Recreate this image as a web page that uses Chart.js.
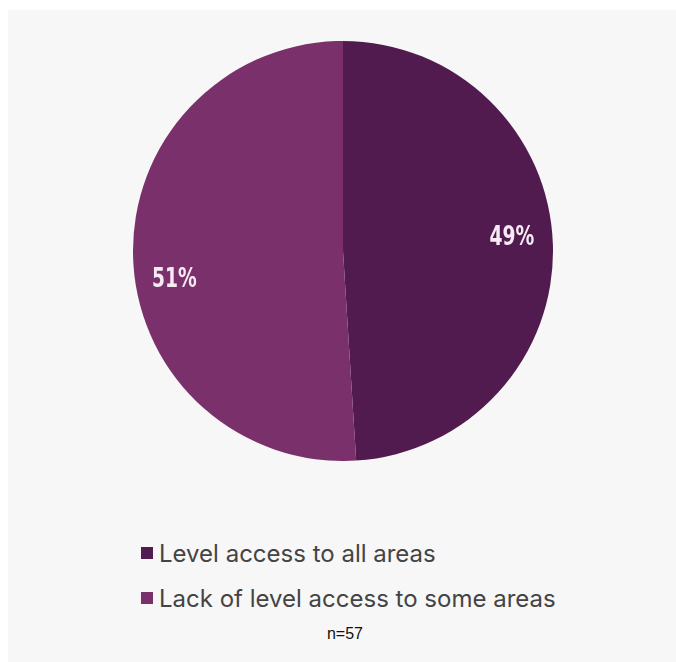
<!DOCTYPE html>
<html>
<head>
<meta charset="utf-8">
<script src="https://cdn.jsdelivr.net/npm/chart.js@4/dist/chart.umd.min.js"></script>
<style>
    html, body { margin: 0; padding: 0; background: #ffffff; }
    body { width: 676px; height: 662px; position: relative; overflow: hidden; }
    .panel { position: absolute; left: 8px; top: 10px; right: 0; bottom: 0; background: #f7f7f7; }
    .pieBox { position: absolute; left: 133px; top: 41px; width: 420px; height: 420px; }
    #legend { position: absolute; left: 141px; top: 538px; font-family: Inter, "Noto Sans", sans-serif; font-size: 24px; color: #444444; }
    #legend .item { display: flex; align-items: center; height: 30px; margin-bottom: 15px; }
    #legend .box { width: 12px; height: 12px; margin-right: 6px; }
    .note { position: absolute; left: 0; width: 690px; top: 625px; text-align: center; font-family: "Liberation Sans", Arial, sans-serif; font-size: 16px; color: #111; }
</style>
</head>
<body>
<div class="panel"></div>
<div class="pieBox"><canvas id="pie" width="420" height="420"></canvas></div>
<div id="legend"></div>
<div class="note" id="note"></div>

<script>
// 資料
const categories = ['Level access to all areas', 'Lack of level access to some areas'];
const shares = [49, 51];
const sliceColors = ['#521b4f', '#7a316b'];
const sampleNote = 'n=57';

// 扇形上的百分比標籤（窄體，水平壓縮）
const sliceLabels = {
    id: 'sliceLabels',
    afterDatasetsDraw(chart) {
        const ctx = chart.ctx;
        const meta = chart.getDatasetMeta(0);
        ctx.save();
        ctx.fillStyle = '#f6ebf3';
        ctx.font = 'bold 26px "DejaVu Sans Condensed", "DejaVu Sans", sans-serif';
        ctx.textAlign = 'center';
        ctx.textBaseline = 'middle';
        meta.data.forEach((arc, i) => {
            const p = arc.getProps(['x', 'y', 'startAngle', 'endAngle', 'outerRadius'], true);
            const a = p.startAngle + (p.endAngle - p.startAngle) * 0.47;
            const r = p.outerRadius * 0.81;
            const lx = p.x + Math.cos(a) * r;
            const ly = p.y + Math.sin(a) * r + 8;
            ctx.save();
            ctx.translate(lx, ly);
            ctx.scale(0.8, 1);
            ctx.fillText(shares[i] + '%', 0, 0);
            ctx.restore();
        });
        ctx.restore();
    }
};

const chart = new Chart(document.getElementById('pie'), {
    type: 'pie',
    data: {
        labels: categories,
        datasets: [{
            data: shares,
            backgroundColor: sliceColors,
            borderWidth: 0
        }]
    },
    options: {
        responsive: false,
        animation: false,
        devicePixelRatio: 1,
        layout: { padding: 0 },
        plugins: {
            legend: { display: false },
            tooltip: { enabled: false }
        }
    },
    plugins: [sliceLabels]
});

// 圖例
document.getElementById('legend').innerHTML = categories.map((c, i) =>
    `<div class="item"><span class="box" style="background:${sliceColors[i]}"></span><span>${c}</span></div>`
).join('');
document.getElementById('note').textContent = sampleNote;
</script>
</body>
</html>
